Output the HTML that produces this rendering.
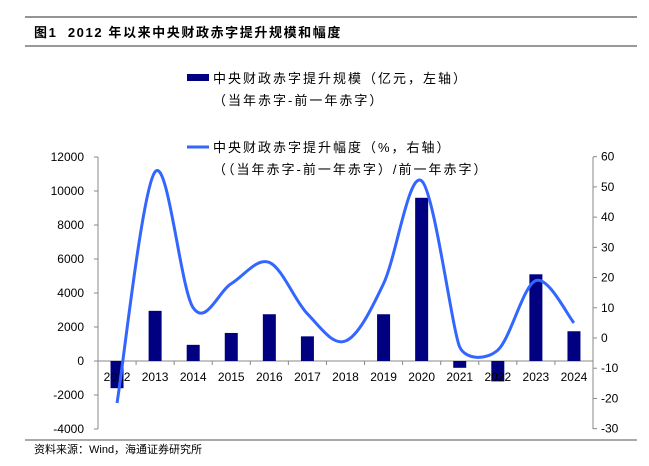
<!DOCTYPE html>
<html><head><meta charset="utf-8"><style>
body{margin:0;background:#fff;width:649px;height:466px;overflow:hidden}
svg{display:block}
text{font-family:"Liberation Sans","Noto Sans CJK SC",sans-serif}
.lg{letter-spacing:2px}
</style></head><body>
<svg width="649" height="466" viewBox="0 0 649 466">
<line x1="25" y1="17" x2="637" y2="17" stroke="#555" stroke-width="1.2"/>
<text x="34" y="37" font-size="13" font-weight="bold" fill="#000" letter-spacing="1.6">图1&#160;&#160;2012 年以来中央财政赤字提升规模和幅度</text>
<line x1="25" y1="46" x2="637" y2="46" stroke="#333" stroke-width="1"/>
<rect x="187" y="74" width="22" height="7" fill="#000080"/>
<text class="lg" x="213" y="83" font-size="13" fill="#000">中央财政赤字提升规模（亿元，左轴）</text>
<text class="lg" x="213" y="105" font-size="13" fill="#000">（当年赤字-前一年赤字）</text>
<line x1="187" y1="147" x2="209" y2="147" stroke="#3366ff" stroke-width="3"/>
<text class="lg" x="213" y="152" font-size="13" fill="#000">中央财政赤字提升幅度（%，右轴）</text>
<text class="lg" x="213" y="174" font-size="13" fill="#000">（（当年赤字-前一年赤字）/前一年赤字）</text>
<g stroke="#888" stroke-width="1">
<line x1="98" y1="157" x2="98" y2="429"/>
<line x1="593" y1="157" x2="593" y2="429"/>
<line x1="98" y1="361" x2="593" y2="361"/>
</g>
<g stroke="#888" stroke-width="1" id="lt"></g>
<g font-size="12" fill="#000" text-anchor="end" id="ll"></g>
<g font-size="12" fill="#000" text-anchor="start" id="rl"></g>
<g fill="#000080" id="bars"></g>
<g font-size="12" fill="#000" text-anchor="middle" id="xl"></g>
<path id="ln" fill="none" stroke="#3366ff" stroke-width="3"/>
<text x="34" y="453" font-size="11" fill="#000">资料来源：Wind，海通证券研究所</text>
<line x1="25" y1="440" x2="637" y2="440" stroke="#555" stroke-width="1"/>
</svg>
<script>
var ns="http://www.w3.org/2000/svg";
function el(p,t,a,txt){var e=document.createElementNS(ns,t);for(var k in a)e.setAttribute(k,a[k]);if(txt!==undefined)e.textContent=txt;document.getElementById(p).appendChild(e);}
function yl(v){return 361-v*0.017;}
function yr(v){return 338-v*3.022;}
for(var v=-4000;v<=12000;v+=2000){var y=yl(v);el("lt","line",{x1:94,y1:y,x2:98,y2:y});el("ll","text",{x:84,y:y+4},String(v));}
for(var v=-30;v<=60;v+=10){var y=yr(v);el("lt","line",{x1:593,y1:y,x2:597,y2:y});el("rl","text",{x:601,y:y+4},String(v));}
var step=495/13;
for(var i=0;i<=13;i++){var x=98+i*step;el("lt","line",{x1:x,y1:361,x2:x,y2:365});}
var bars=[-1600,2950,950,1650,2750,1450,0,2750,9600,-400,-1200,5100,1750];
var line=[-21.5,55,10,18,25,8,-1,18,52,-3,-4,19,5];
var pts=[];
for(var i=0;i<13;i++){var cx=98+step*(i+0.5);
 var y0=yl(0),y1=yl(bars[i]);if(bars[i]!=0)el("bars","rect",{x:cx-6.5,y:Math.min(y0,y1),width:13,height:Math.abs(y1-y0)});
 el("xl","text",{x:cx,y:381},String(2012+i));pts.push([cx,yr(line[i])]);}
var d="M"+pts[0][0]+","+pts[0][1];
for(var i=0;i<pts.length-1;i++){var p0=pts[Math.max(0,i-1)],p1=pts[i],p2=pts[i+1],p3=pts[Math.min(pts.length-1,i+2)];var t=1/6;
 var t1=t,t2=t;
 if(i==9){t1=1/14;t2=1/6;}
 if(i==8){t2=1/10;}
 d+=" C"+(p1[0]+(p2[0]-p0[0])*t1)+","+(p1[1]+(p2[1]-p0[1])*t1)+" "+(p2[0]-(p3[0]-p1[0])*t2)+","+(p2[1]-(p3[1]-p1[1])*t2)+" "+p2[0]+","+p2[1];}
document.getElementById("ln").setAttribute("d",d);
</script>
</body></html>
